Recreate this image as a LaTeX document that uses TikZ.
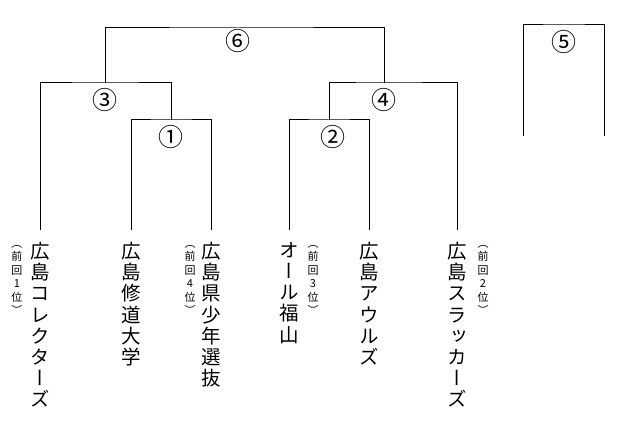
\documentclass[tikz,border=0pt]{standalone}
\usepackage{fontspec}
\newfontfamily\jpv[RawFeature={+vert}]{Noto Sans CJK JP}
\newfontfamily\jph{Noto Sans CJK JP}
\tikzset{
  team/.style={anchor=north, inner sep=0pt, align=center, font=\jpv\fontsize{19.5}{21.2}\selectfont},
  note/.style={anchor=north, inner sep=0pt, align=center, font=\jpv\fontsize{11}{13.5}\selectfont},
  num/.style={inner sep=0pt, font=\jph\fontsize{25}{25}\selectfont},
  bracket/.style={line width=1pt, line cap=rect}
}
\begin{document}
\begin{tikzpicture}[x=1pt,y=-1pt]
\useasboundingbox (0,0) rectangle (622,422);
% leaf ends
\coordinate (e1) at (40,230);
\coordinate (e2) at (131,230);
\coordinate (e3) at (211,230);
\coordinate (e4) at (289,230);
\coordinate (e5) at (369,230);
\coordinate (e6) at (457,230);
% junctions
\coordinate (j1) at (171,120);
\coordinate (j2) at (329,120);
\coordinate (j3) at (105,83);
\coordinate (j4) at (384,83);
\coordinate (j6) at (238,28);
\coordinate (c5l) at (523,136);
\coordinate (c5r) at (604,136);
\coordinate (j5) at (564,25);
% brackets
\draw[bracket] (e2) |- (j1) -| (e3);
\draw[bracket] (e1) |- (j3) -| (j1);
\draw[bracket] (e4) |- (j2) -| (e5);
\draw[bracket] (j2) |- (j4) -| (e6);
\draw[bracket] (j3) |- (j6) -| (j4);
\draw[bracket] (c5l) |- (j5) -| (c5r);
% match numbers
\node[num] (n1) at (171,137) {①};
\node[num] (n2) at (333,137) {②};
\node[num] (n3) at (105,100) {③};
\node[num] (n4) at (384,100) {④};
\node[num] (n5) at (564,42) {⑤};
\node[num] (n6) at (238,41) {⑥};
% teams
\node[team] (t1) at (40,242) {広\\島\\コ\\レ\\ク\\タ\\ー\\ズ};
\node[team] (t2) at (131,242) {広\\島\\修\\道\\大\\学};
\node[team] (t3) at (211,242) {広\\島\\県\\少\\年\\選\\抜};
\node[team] (t4) at (289,242) {オ\\ー\\ル\\福\\山};
\node[team] (t5) at (369,242) {広\\島\\ア\\ウ\\ル\\ズ};
\node[team] (t6) at (457,242) {広\\島\\ス\\ラ\\ッ\\カ\\ー\\ズ};
% previous ranks
\node[note] (p1) at (17,245) {（\\前\\回\\1\\位\\）};
\node[note] (p3) at (190,245) {（\\前\\回\\4\\位\\）};
\node[note] (p4) at (313,245) {（\\前\\回\\3\\位\\）};
\node[note] (p6) at (483,245) {（\\前\\回\\2\\位\\）};
\end{tikzpicture}
\end{document}
